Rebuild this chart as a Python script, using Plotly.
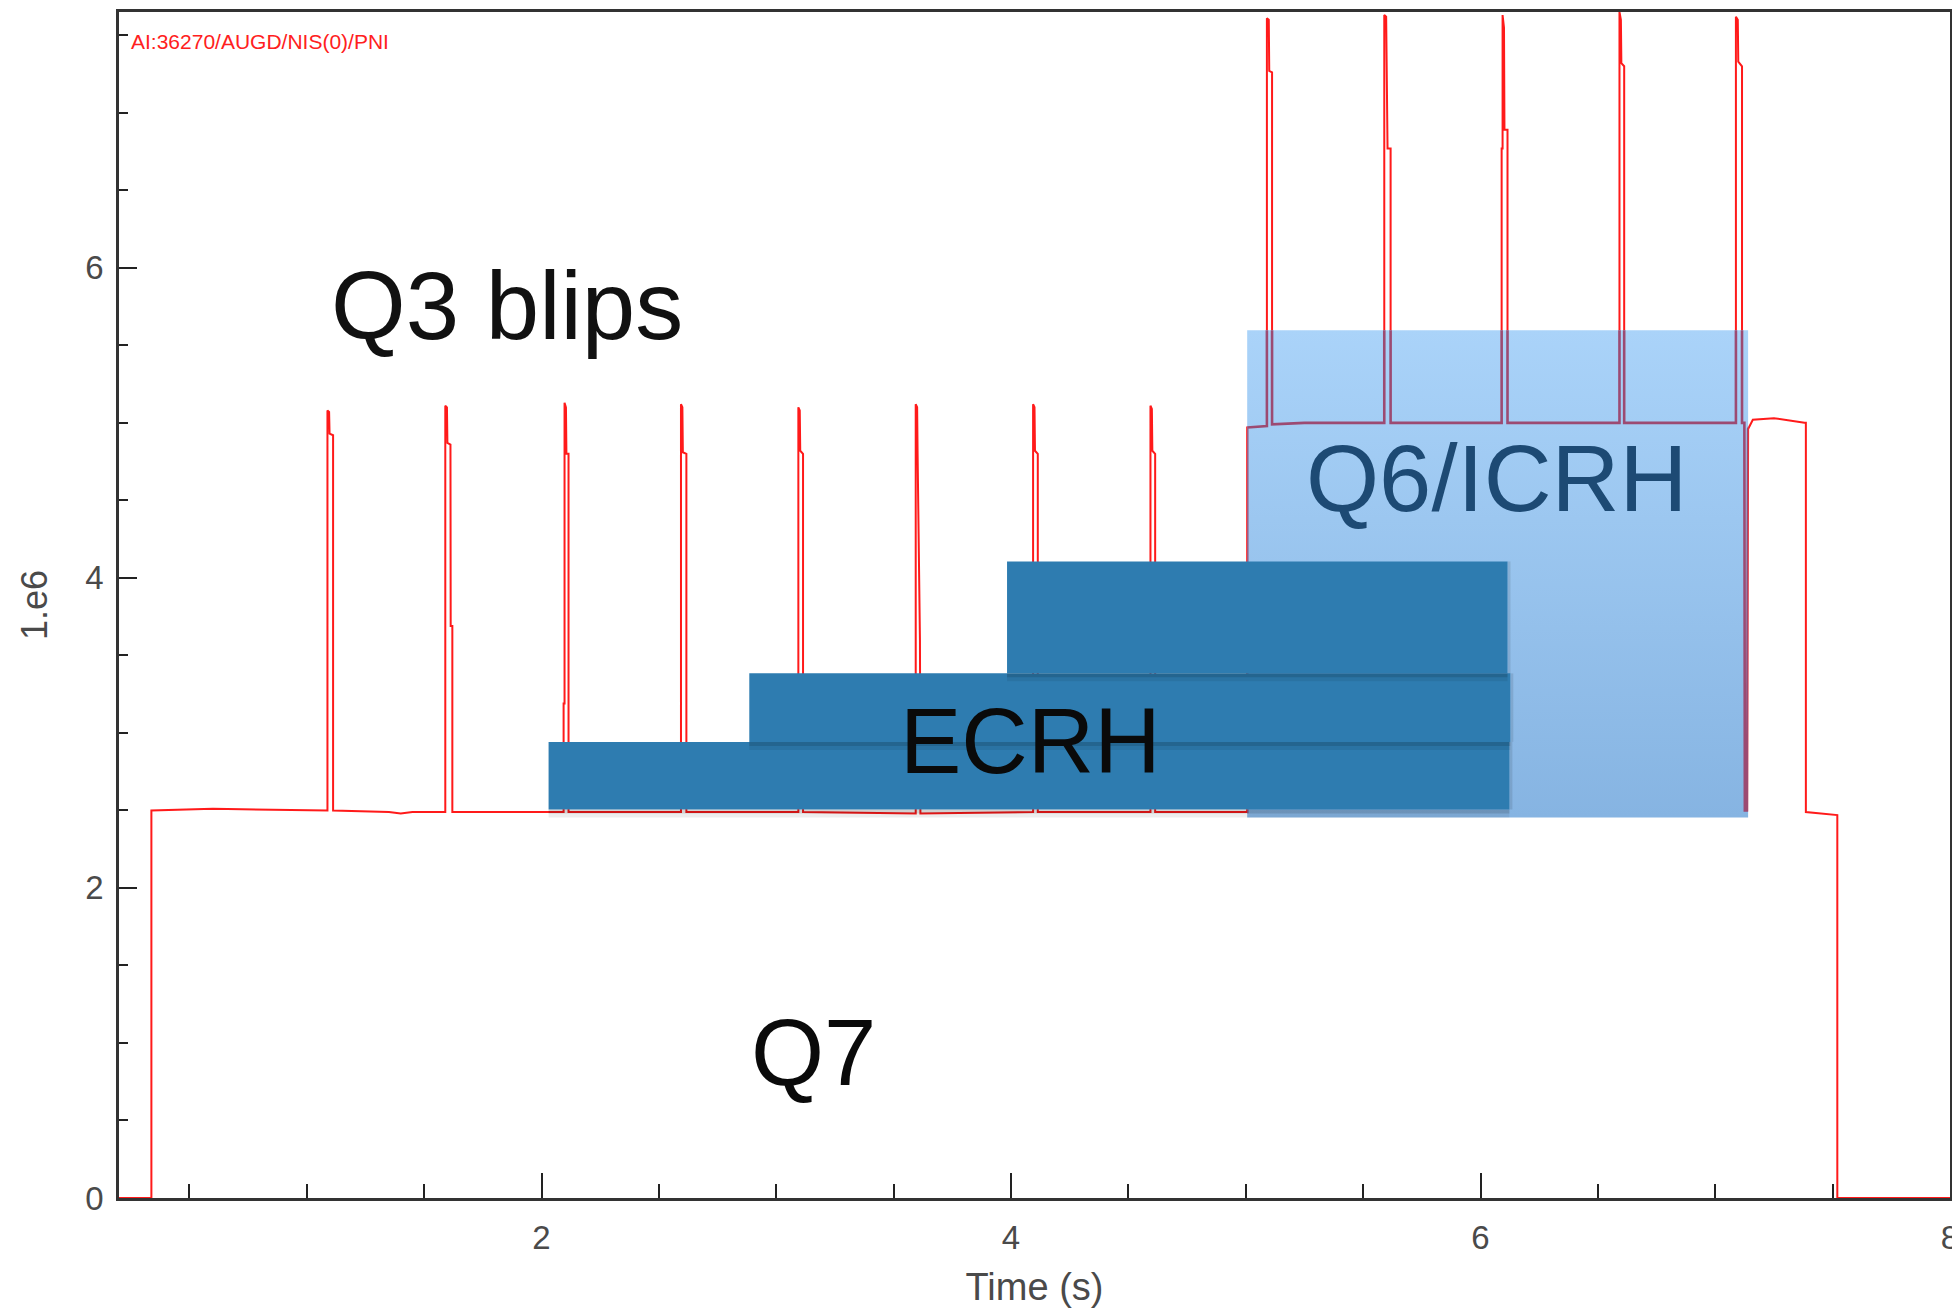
import plotly.graph_objects as go

# ---------------- data ----------------
# Neutral-beam power signal AI:36270/AUGD/NIS(0)/PNI  (time in s, value in 1e6)
TIME_S = [
    0.200, 0.338, 0.338, 0.600, 1.088,
    1.088, 1.095, 1.097, 1.112, 1.112,                       # Q3 blip 1
    1.350, 1.400, 1.450, 1.590,
    1.590, 1.597, 1.599, 1.612, 1.613, 1.620, 1.620,         # blip 2
    2.094,
    2.094, 2.098, 2.098, 2.104, 2.106, 2.115, 2.115,         # blip 3
    2.594,
    2.594, 2.600, 2.602, 2.617, 2.617,                       # blip 4
    3.094,
    3.094, 3.100, 3.102, 3.114, 3.114,                       # blip 5
    3.594,
    3.594, 3.600, 3.602, 3.612, 3.614,                       # blip 6
    4.094,
    4.094, 4.100, 4.102, 4.114, 4.114,                       # blip 7
    4.594,
    4.594, 4.600, 4.602, 4.614, 4.614,                       # blip 8
    5.006, 5.006, 5.090,
    5.090, 5.098, 5.100, 5.112, 5.112,                       # blip 9
    5.250, 5.590,
    5.590, 5.598, 5.600, 5.604, 5.617, 5.617,                # blip 10
    6.090,
    6.090, 6.094, 6.094, 6.100, 6.102, 6.115, 6.115,         # blip 11
    6.592,
    6.592, 6.598, 6.600, 6.612, 6.612,                       # blip 12
    7.088,
    7.088, 7.096, 7.098, 7.114, 7.114,                       # blip 13
    7.124, 7.126, 7.136, 7.140, 7.160, 7.250, 7.380,
    7.386, 7.386, 7.520, 7.520, 8.000,
]
SIGNAL = [
    0.00, 0.00, 2.50, 2.51, 2.50,
    5.08, 5.07, 4.93, 4.92, 2.50,
    2.49, 2.48, 2.49, 2.49,
    5.11, 5.10, 4.87, 4.86, 3.69, 3.69, 2.49,
    2.49,
    3.19, 3.19, 5.13, 5.10, 4.80, 4.80, 2.49,
    2.49,
    5.12, 5.10, 4.81, 4.80, 2.49,
    2.49,
    5.10, 5.08, 4.82, 4.80, 2.49,
    2.48,
    5.12, 5.10, 4.80, 3.60, 2.48,
    2.49,
    5.12, 5.10, 4.82, 4.80, 2.49,
    2.49,
    5.11, 5.09, 4.82, 4.80, 2.49,
    2.49, 4.97, 4.98,
    7.61, 7.60, 7.27, 7.26, 4.99,
    5.00, 5.00,
    7.63, 7.62, 7.30, 6.77, 6.77, 5.00,
    5.00,
    6.77, 6.77, 7.63, 7.55, 6.89, 6.89, 5.00,
    5.00,
    7.65, 7.60, 7.32, 7.30, 5.00,
    5.00,
    7.62, 7.60, 7.33, 7.30, 5.00,
    5.00, 2.50, 2.50, 4.96, 5.02, 5.03, 5.00,
    5.00, 2.49, 2.47, 0.00, 0.00,
]

# Heating phases (time window in s, level band in 1e6)
ICRH_T = [5.006, 7.140]
ICRH_P = [2.455, 5.597]

ECRH_START = [2.030, 2.885, 3.983]
ECRH_END = [6.123, 6.127, 6.115]
ECRH_LOW = [2.506, 2.942, 3.384]
ECRH_HIGH = [2.942, 3.384, 4.106]

X_RANGE = [0.2, 8.0]
Y_RANGE = [0.0, 7.65]
X_TICKS = [2, 4, 6, 8]
X_MINOR = [0.5, 1.0, 1.5, 2.5, 3.0, 3.5, 4.5, 5.0, 5.5, 6.5, 7.0, 7.5]
Y_TICKS = [0, 2, 4, 6]
Y_MINOR = [0.5, 1.0, 1.5, 2.5, 3.0, 3.5, 4.5, 5.0, 5.5, 6.5, 7.0, 7.5]

# ---------------- styles ----------------
FONT = "Liberation Sans, Arial, Helvetica, sans-serif"
RED = "#ff1a1a"
MAROON = "#9c4a72"
ECRH_COLOR = "#2e7cb0"
ICRH_BOTTOM = "#86b4e2"
ICRH_TOP = "#aad3f9"
AXIS_COLOR = "#333333"
TICK_FONT = dict(family=FONT, size=33, color="#4a4a4a")

fig = go.Figure()

# red signal
fig.add_trace(go.Scatter(
    x=TIME_S, y=SIGNAL, mode="lines",
    line=dict(color=RED, width=2),
    hoverinfo="skip", showlegend=False,
))

# ICRH / Q6 box with vertical gradient
fig.add_trace(go.Scatter(
    x=[ICRH_T[0], ICRH_T[1], ICRH_T[1], ICRH_T[0], ICRH_T[0]],
    y=[ICRH_P[0], ICRH_P[0], ICRH_P[1], ICRH_P[1], ICRH_P[0]],
    mode="none", fill="toself",
    fillgradient=dict(type="vertical",
                      colorscale=[[0, ICRH_BOTTOM], [1, ICRH_TOP]]),
    hoverinfo="skip", showlegend=False,
))

# the signal seen through the ICRH box (clipped to the box by its own subplot)
fig.add_trace(go.Scatter(
    x=TIME_S, y=SIGNAL, mode="lines", xaxis="x2", yaxis="y2",
    line=dict(color=MAROON, width=2.6),
    hoverinfo="skip", showlegend=False,
))

x_span = X_RANGE[1] - X_RANGE[0]
y_span = Y_RANGE[1] - Y_RANGE[0]
x2_domain = [(ICRH_T[0] - X_RANGE[0]) / x_span, (ICRH_T[1] - X_RANGE[0]) / x_span]
y2_domain = [(ICRH_P[0] - Y_RANGE[0]) / y_span, (ICRH_P[1] - Y_RANGE[0]) / y_span]

# ECRH stacked bars with soft drop shadows
shapes = []
for s, e, lo, hi in zip(ECRH_START, ECRH_END, ECRH_LOW, ECRH_HIGH):
    shapes.append(dict(type="rect", xref="x", yref="y", layer="above",
                       x0=s, x1=e, ysizemode="pixel", yanchor=lo, y0=-8, y1=0,
                       fillcolor="rgba(0,0,0,0.07)", line=dict(width=0)))
    shapes.append(dict(type="rect", xref="x", yref="y", layer="above",
                       x0=s, x1=e, ysizemode="pixel", yanchor=lo, y0=-4, y1=0,
                       fillcolor="rgba(0,0,0,0.12)", line=dict(width=0)))
    shapes.append(dict(type="rect", xref="x", yref="y", layer="above",
                       xsizemode="pixel", xanchor=e, x0=0, x1=3, y0=lo, y1=hi,
                       fillcolor="rgba(0,0,0,0.10)", line=dict(width=0)))
    shapes.append(dict(type="rect", xref="x", yref="y", layer="above",
                       x0=s, x1=e, y0=lo, y1=hi,
                       fillcolor=ECRH_COLOR, line=dict(width=0)))

annotations = [
    dict(text="AI:36270/AUGD/NIS(0)/PNI", x=0.242, y=7.46, xref="x", yref="y",
         xanchor="left", yanchor="middle", showarrow=False,
         font=dict(family=FONT, size=21, color="#ff2020")),
    dict(text="Q3 blips", x=1.851, y=5.76, xref="x", yref="y",
         showarrow=False, font=dict(family=FONT, size=96, color="#111111")),
    dict(text="Q6/ICRH", x=6.07, y=4.64, xref="x", yref="y",
         showarrow=False, font=dict(family=FONT, size=94, color="#1d4a74")),
    dict(text="ECRH", x=4.081, y=2.95, xref="x", yref="y",
         showarrow=False, font=dict(family=FONT, size=92, color="#0a0a0a")),
    dict(text="Q7", x=3.157, y=0.94, xref="x", yref="y",
         showarrow=False, font=dict(family=FONT, size=94, color="#0a0a0a")),
]

# The page body adds an 8 px offset, so the figure is sized to fit inside it.
fig.update_layout(
    width=1952, height=1304,
    margin=dict(l=111, r=10, t=4, b=114),
    paper_bgcolor="white",
    plot_bgcolor="rgba(0,0,0,0)",
    showlegend=False,
    shapes=shapes,
    annotations=annotations,
    xaxis=dict(
        range=X_RANGE, tickvals=X_TICKS, ticks="inside", ticklen=25,
        tickwidth=1.5, tickcolor="#222222", automargin=False,
        minor=dict(tickvals=X_MINOR, ticks="inside", ticklen=14,
                   tickwidth=1.5, tickcolor="#222222"),
        showline=True, linecolor=AXIS_COLOR, linewidth=2.5, mirror=True,
        showgrid=False, zeroline=False, layer="below traces",
        tickfont=TICK_FONT, ticklabelstandoff=9,
        title=dict(text="Time (s)", standoff=19,
                   font=dict(family=FONT, size=38, color="#4a4a4a")),
    ),
    yaxis=dict(
        range=Y_RANGE, tickvals=Y_TICKS, ticks="inside", ticklen=18,
        tickwidth=1.5, tickcolor="#222222", automargin=False,
        minor=dict(tickvals=Y_MINOR, ticks="inside", ticklen=9,
                   tickwidth=1.5, tickcolor="#222222"),
        showline=True, linecolor=AXIS_COLOR, linewidth=2.5, mirror=True,
        showgrid=False, zeroline=False, layer="below traces",
        tickfont=TICK_FONT, ticklabelstandoff=6,
        title=dict(text="1.e6", standoff=27,
                   font=dict(family=FONT, size=36, color="#4a4a4a")),
    ),
    xaxis2=dict(domain=x2_domain, range=ICRH_T, anchor="y2", visible=False,
                fixedrange=True),
    yaxis2=dict(domain=y2_domain, range=ICRH_P, anchor="x2", visible=False,
                fixedrange=True),
)

fig.write_html("out.html")
